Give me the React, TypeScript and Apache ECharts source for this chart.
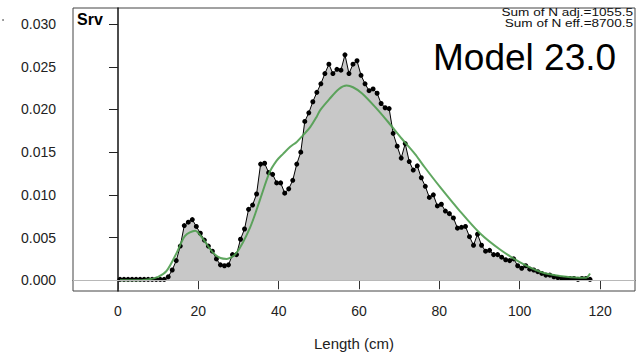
import React, { useEffect, useRef } from "react";
import * as echarts from "echarts";

const lengths = [
  0.5, 1.5, 2.5, 3.5, 4.5, 5.5, 6.5, 7.5, 8.5, 9.5,
  10.5, 11.5, 12.5, 13.5, 14.5, 15.5, 16.5, 17.5, 18.5, 19.5,
  20.5, 21.5, 22.5, 23.5, 24.5, 25.5, 26.5, 27.5, 28.5, 29.5,
  30.5, 31.5, 32.5, 33.5, 34.5, 35.5, 36.5, 37.5, 38.5, 39.5,
  40.5, 41.5, 42.5, 43.5, 44.5, 45.5, 46.5, 47.5, 48.5, 49.5,
  50.5, 51.5, 52.5, 53.5, 54.5, 55.5, 56.5, 57.5, 58.5, 59.5,
  60.5, 61.5, 62.5, 63.5, 64.5, 65.5, 66.5, 67.5, 68.5, 69.5,
  70.5, 71.5, 72.5, 73.5, 74.5, 75.5, 76.5, 77.5, 78.5, 79.5,
  80.5, 81.5, 82.5, 83.5, 84.5, 85.5, 86.5, 87.5, 88.5, 89.5,
  90.5, 91.5, 92.5, 93.5, 94.5, 95.5, 96.5, 97.5, 98.5, 99.5,
  100.5, 101.5, 102.5, 103.5, 104.5, 105.5, 106.5, 107.5, 108.5, 109.5,
  110.5, 111.5, 112.5, 113.5, 114.5, 115.5, 116.5, 117.5,
];

const observed = [
  0.0001, 0.0001, 0.0001, 0.0001, 0.0001, 0.0001, 0.0001, 0.0001, 0.0001, 0.0001,
  0.0001, 0.0001, 0.0004, 0.0012, 0.0023, 0.0040, 0.0064, 0.0068, 0.0071, 0.0063,
  0.0055, 0.0047, 0.0040, 0.0034, 0.0025, 0.0018, 0.0017, 0.0018, 0.0030, 0.0030,
  0.0048, 0.0060, 0.0083, 0.0088, 0.0101, 0.0136, 0.0137, 0.0126, 0.0124, 0.0114,
  0.0114, 0.0102, 0.0107, 0.0117, 0.0136, 0.0150, 0.0186, 0.0196, 0.0209, 0.0220,
  0.0230, 0.0242, 0.0253, 0.0242, 0.0247, 0.0246, 0.0264, 0.0242, 0.0253, 0.0257,
  0.0240, 0.0230, 0.0222, 0.0224, 0.0219, 0.0207, 0.0202, 0.0201, 0.0172, 0.0157,
  0.0143, 0.0160, 0.0139, 0.0129, 0.0134, 0.0120, 0.0110, 0.0097, 0.0100, 0.0087,
  0.0089, 0.0081, 0.0078, 0.0073, 0.0061, 0.0062, 0.0063, 0.0051, 0.0041, 0.0054,
  0.0041, 0.0034, 0.0035, 0.0030, 0.0030, 0.0027, 0.0024, 0.0023, 0.0025, 0.0017,
  0.0014, 0.0017, 0.0013, 0.0012, 0.0010, 0.0008, 0.0006, 0.0006, 0.0004, 0.0003,
  0.0002, 0.0002, 0.0002, 0.0002, 0.0001, 0.0002, 0.0002, 0.0001,
];

const expLengths = [
  0.5, 4, 7.5, 10, 12.1, 14.6, 16.7, 19.2, 21.2, 23.7,
  25.5, 27.1, 29.5, 32.9, 35.4, 37.7, 39.5, 41.1, 42.8, 44.5,
  46.1, 47.8, 49.4, 50.3, 52.6, 55.0, 56.9, 58.5, 60.7, 64.0,
  67.3, 70.6, 73.9, 76.4, 80.2, 85.1, 90.1, 95.1, 100.1, 105.1,
  110.0, 115.0, 116.5, 117.5,
];

const expected = [
  0.0, 0.0, 0.0001, 0.0004, 0.0011, 0.0032, 0.0052, 0.0058, 0.0048, 0.0032,
  0.0026, 0.0025, 0.0032, 0.0062, 0.0095, 0.0126, 0.0140, 0.0148, 0.0156, 0.0162,
  0.0170, 0.0179, 0.0191, 0.0199, 0.0212, 0.0224, 0.0228, 0.0226, 0.0219, 0.0203,
  0.0185, 0.0166, 0.0148, 0.0132, 0.0109, 0.0081, 0.0055, 0.0036, 0.0021, 0.0010,
  0.0005, 0.0003, 0.0003, 0.0008,
];

const xTicks = [0, 20, 40, 60, 80, 100, 120];
const yTicks = [0, 0.005, 0.01, 0.015, 0.02, 0.025, 0.03];

const fleetLabel = "Srv";
const sumAdjLabel = "Sum of N adj.=1055.5";
const sumEffLabel = "Sum of N eff.=8700.5";
const modelLabel = "Model 23.0";
const xTitle = "Length (cm)";

const FONT = "'Liberation Sans', Arial, Helvetica, sans-serif";

export default function App() {
  const ref = useRef<HTMLDivElement>(null);

  useEffect(() => {
    const chart = echarts.init(ref.current!, null, { renderer: "svg" });
    chart.setOption({
      animation: false,
      backgroundColor: "#ffffff",
      grid: {
        left: 73,
        right: 9,
        top: 8,
        bottom: 70,
        show: true,
        borderColor: "#444",
        borderWidth: 1,
        backgroundColor: "transparent",
      },
      xAxis: {
        type: "value",
        min: -11.2,
        max: 128.7,
        axisLine: { show: true, lineStyle: { color: "#444", width: 1 } },
        axisTick: {
          show: true,
          inside: false,
          length: 9,
          customValues: xTicks,
          lineStyle: { color: "#333" },
        },
        axisLabel: {
          customValues: xTicks,
          margin: 13,
          fontSize: 14,
          color: "#222",
          fontFamily: FONT,
        },
        splitLine: { show: false },
        name: xTitle,
        nameLocation: "middle",
        nameGap: 45,
        nameTextStyle: { fontSize: 15, color: "#222", fontFamily: FONT },
      },
      yAxis: {
        type: "value",
        min: -0.00126,
        max: 0.03188,
        axisLine: { show: true, lineStyle: { color: "#111", width: 1.5 } },
        axisTick: {
          show: true,
          inside: false,
          length: 9,
          customValues: yTicks,
          lineStyle: { color: "#222" },
        },
        axisLabel: {
          customValues: yTicks,
          margin: 17,
          fontSize: 14,
          color: "#222",
          fontFamily: FONT,
          formatter: (v: number) => v.toFixed(3),
        },
        splitLine: { show: false },
      },
      series: [
        {
          type: "line",
          data: lengths.map((l, i) => [l, observed[i]]),
          symbol: "circle",
          symbolSize: 5,
          itemStyle: { color: "#000" },
          lineStyle: { color: "#000", width: 1 },
          areaStyle: { color: "#c8c8c8", opacity: 1 },
          z: 2,
          markLine: {
            silent: true,
            symbol: "none",
            animation: false,
            label: { show: false },
            lineStyle: { color: "#b8b8b8", width: 1, type: "solid" },
            data: [{ yAxis: 0 }],
          },
        },
        {
          type: "line",
          data: expLengths.map((l, i) => [l, expected[i]]),
          symbol: "none",
          smooth: 0.3,
          lineStyle: { color: "#4f9d4f", width: 2, opacity: 0.9 },
          z: 3,
        },
      ],
      graphic: [
        {
          type: "circle",
          shape: { cx: 3, cy: 20, r: 0.8 },
          style: { fill: "#666" },
        },
        {
          type: "text",
          left: 77,
          top: 11,
          style: { text: fleetLabel, font: `bold 16px ${FONT}`, fill: "#000" },
        },
        {
          type: "text",
          x: 633,
          y: 12,
          scaleX: 1.18,
          style: {
            text: sumAdjLabel,
            font: `11.5px ${FONT}`,
            fill: "#111",
            align: "right",
            verticalAlign: "middle",
          },
        },
        {
          type: "text",
          x: 633,
          y: 23.5,
          scaleX: 1.18,
          style: {
            text: sumEffLabel,
            font: `11.5px ${FONT}`,
            fill: "#111",
            align: "right",
            verticalAlign: "middle",
          },
        },
        {
          type: "text",
          left: 433,
          top: 39,
          style: { text: modelLabel, font: `37px ${FONT}`, fill: "#000" },
        },
      ],
    });
    return () => chart.dispose();
  }, []);

  return (
    <div
      ref={ref}
      style={{ position: "fixed", left: 0, top: 0, width: 644, height: 361 }}
    />
  );
}
